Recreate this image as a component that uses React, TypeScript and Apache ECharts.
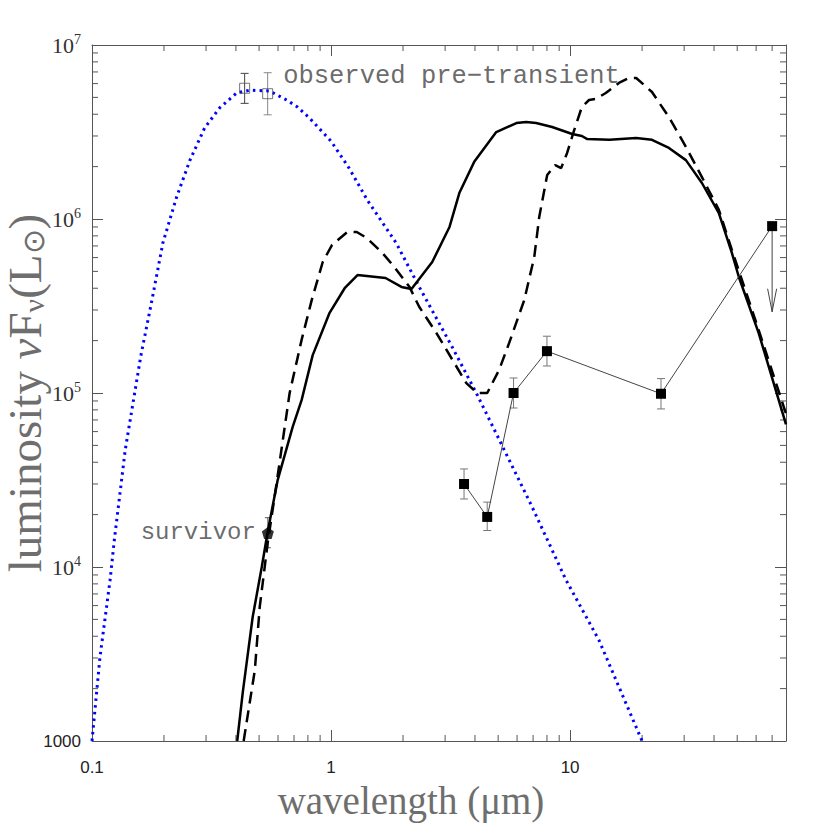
import React, { useEffect, useRef } from 'react';
import * as echarts from 'echarts';

// Blackbody (blue dotted) curve
const blueX = [0.1, 0.108, 0.119, 0.124, 0.1377, 0.16, 0.178, 0.198, 0.226, 0.257, 0.296, 0.342, 0.403, 0.457, 0.553, 0.652, 0.724, 0.813, 1.0, 1.19, 1.42, 1.87, 2.34, 3.21, 4.05, 5.06, 6.94, 9.62, 13.2, 20.0];
const blueY = [1000, 3040, 8400, 14300, 47000, 1.63e5, 3.4e5, 7.3e5, 1.34e6, 2.18e6, 3.34e6, 4.35e6, 5.3e6, 5.5e6, 5.44e6, 4.83e6, 4.4e6, 3.8e6, 2.8e6, 1.96e6, 1.28e6, 7.3e5, 4.06e5, 1.84e5, 1.0e5, 5.37e4, 2.21e4, 8.4e3, 3.8e3, 1000];

// Solid model curve
const solidX = [0.405, 0.427, 0.47, 0.513, 0.543, 0.598, 0.691, 0.753, 0.838, 0.986, 1.14, 1.29, 1.69, 1.97, 2.17, 2.65, 3.13, 3.44, 3.97, 4.91, 5.96, 6.55, 7.21, 8.41, 10.2, 11.2, 11.8, 14.6, 18.9, 22.0, 25.9, 30.5, 35.6, 41.9, 47.5, 50.8, 61.5, 80];
const solidY = [1000, 1890, 5160, 1e4, 1.59e4, 3.16e4, 6.38e4, 9.1e4, 1.65e5, 2.89e5, 4.0e5, 4.76e5, 4.58e5, 4.07e5, 3.96e5, 5.66e5, 9.0e5, 1.41e6, 2.13e6, 3.16e6, 3.56e6, 3.61e6, 3.56e6, 3.38e6, 3.08e6, 3.0e6, 2.88e6, 2.85e6, 2.92e6, 2.85e6, 2.56e6, 2.18e6, 1.61e6, 1.08e6, 6.38e5, 4.64e5, 2.21e5, 6.6e4];

// Dashed model curve
const dashX = [0.431, 0.48, 0.503, 0.543, 0.592, 0.64, 0.671, 0.753, 0.83, 0.923, 1.01, 1.17, 1.28, 1.41, 1.64, 1.84, 2.13, 2.34, 2.76, 3.22, 3.68, 4.09, 4.5, 5.05, 5.56, 6.43, 7.08, 7.43, 8.02, 8.66, 9.17, 9.71, 10.4, 11.2, 12.0, 12.8, 14.1, 16.0, 17.6, 18.9, 22.0, 25.9, 30.5, 35.6, 41.9, 47.5, 61.5, 80];
const dashY = [1000, 2560, 5890, 1.37e4, 3.04e4, 6.38e4, 1e5, 2.02e5, 3.42e5, 5.66e5, 7.1e5, 8.42e5, 8.42e5, 7.78e5, 6.38e5, 5.3e5, 4.06e5, 3.12e5, 2.21e5, 1.55e5, 1.14e5, 1.0e5, 1.0e5, 1.36e5, 1.94e5, 3.42e5, 6.05e5, 1.03e6, 1.79e6, 2.04e6, 1.96e6, 2.39e6, 3.24e6, 4.4e6, 4.83e6, 4.9e6, 5.3e6, 6.05e6, 6.46e6, 6.46e6, 5.37e6, 3.85e6, 2.6e6, 1.74e6, 1.13e6, 6.64e5, 2.3e5, 7.6e4];

// Observed IR (transient) photometry
const irX = [3.6, 4.5, 5.8, 8.0, 24, 70];
const irY = [3.0e4, 1.94e4, 1.0e5, 1.74e5, 9.9e4, 9.1e5];
const irErrX = [3.6, 4.5, 5.8, 8.0, 24];
const irLo = [2.46e4, 1.62e4, 8.2e4, 1.43e5, 8.1e4];
const irHi = [3.66e4, 2.36e4, 1.22e5, 2.12e5, 1.21e5];
const limitX = [70];
const limitFrom = [9.1e5];
const limitTo = [2.93e5];

// Pre-transient photometry
const preX = [0.435, 0.543];
const preY = [5.64e6, 5.25e6];
const preLo = [4.62e6, 3.97e6];
const preHi = [6.87e6, 6.93e6];

// Survivor
const survX = [0.544];
const survY = [1.57e4];
const survLo = [1.29e4];
const survHi = [1.92e4];

// Axis ranges & minor tick values
const xMin = 0.1, xMax = 80, yMin = 1000, yMax = 1e7;
const xMinorTicks = [0.2, 0.3, 0.4, 0.5, 0.6, 0.7, 0.8, 0.9, 2, 3, 4, 5, 6, 7, 8, 9, 20, 30, 40, 50, 60, 70];
const yMinorTicks = [2000, 3000, 4000, 5000, 6000, 7000, 8000, 9000, 2e4, 3e4, 4e4, 5e4, 6e4, 7e4, 8e4, 9e4, 2e5, 3e5, 4e5, 5e5, 6e5, 7e5, 8e5, 9e5, 2e6, 3e6, 4e6, 5e6, 6e6, 7e6, 8e6, 9e6];

const zip = (a: number[], b: number[]) => a.map((v, i) => [v, b[i]]);

const AX = '#555';
const TITLE = '#6e6e6e';

function errorSeries(xs: number[], lo: number[], hi: number[], colors: string[], cap: number) {
  return {
    type: 'custom',
    xAxisIndex: 0,
    yAxisIndex: 0,
    silent: true,
    z: 1,
    data: xs.map((x, i) => [x, lo[i], hi[i], i]),
    renderItem: (params: any, api: any) => {
      const x = api.value(0);
      const a = api.coord([x, api.value(1)]);
      const b = api.coord([x, api.value(2)]);
      const c = colors[api.value(3)] || colors[0];
      const st = { stroke: c, lineWidth: 1 };
      return {
        type: 'group',
        children: [
          { type: 'line', shape: { x1: a[0], y1: a[1], x2: b[0], y2: b[1] }, style: st },
          { type: 'line', shape: { x1: a[0] - cap, y1: a[1], x2: a[0] + cap, y2: a[1] }, style: st },
          { type: 'line', shape: { x1: b[0] - cap, y1: b[1], x2: b[0] + cap, y2: b[1] }, style: st },
        ],
      };
    },
  };
}

const xLabelFmt = (v: number) => {
  const l = Math.log10(v);
  const n = Math.round(l);
  if (Math.abs(l - n) > 1e-6) return '';
  return n < 0 ? '0.1' : String(Math.pow(10, n));
};

const yLabelFmt = (v: number) => {
  const l = Math.log10(v);
  const n = Math.round(l);
  if (Math.abs(l - n) > 1e-6) return '';
  if (n === 3) return '{s|1000}';
  return '{b|10}{sup|' + n + '}';
};

export default function App() {
  const ref = useRef<HTMLDivElement>(null);
  useEffect(() => {
    const chart = echarts.init(ref.current as HTMLDivElement, null, { renderer: 'svg' });
    const tickStyle = { color: AX, width: 1 };
    chart.setOption({
      animation: false,
      backgroundColor: '#fff',
      grid: { left: 92, top: 45, width: 694, height: 696, outerBoundsMode: 'none', containLabel: false },
      xAxis: [
        {
          type: 'log', logBase: 10, min: xMin, max: xMax, position: 'bottom',
          axisLine: { onZero: false, lineStyle: { color: AX, width: 1 } },
          axisTick: { inside: true, length: 11, lineStyle: tickStyle },
          axisLabel: { formatter: xLabelFmt, fontFamily: 'Liberation Sans', fontSize: 17, color: '#222', margin: 18, showMaxLabel: false },
          splitLine: { show: false },
          name: 'wavelength (μm)', nameLocation: 'middle', nameGap: 40, nameMoveOverlap: false,
          nameTextStyle: { fontFamily: 'Liberation Serif', fontSize: 39, color: TITLE, padding: [0, 56, 0, 0] },
        },
        {
          type: 'log', logBase: 10, min: xMin, max: xMax, position: 'top',
          axisLine: { onZero: false, lineStyle: { color: AX, width: 1 } },
          axisTick: { inside: true, length: 11, lineStyle: tickStyle },
          axisLabel: { show: false },
          splitLine: { show: false },
        },
      ],
      yAxis: [
        {
          type: 'log', logBase: 10, min: yMin, max: yMax, position: 'left',
          axisLine: { onZero: false, lineStyle: { color: AX, width: 1 } },
          axisTick: { inside: true, length: 11, lineStyle: tickStyle },
          axisLabel: {
            formatter: yLabelFmt, margin: 11, color: '#222',
            rich: {
              s: { fontFamily: 'Liberation Sans', fontSize: 17, color: '#222' },
              b: { fontFamily: 'Liberation Serif', fontSize: 22, lineHeight: 26, color: '#333' },
              sup: { fontFamily: 'Liberation Serif', fontSize: 14, lineHeight: 20, verticalAlign: 'top', color: '#333' },
            },
          },
          splitLine: { show: false },
          name: '{a|luminosity }{i|ν}{a|F}{sub|ν}{a|(L}{sub|⊙}{a|)}',
          nameLocation: 'middle', nameGap: 44, nameMoveOverlap: false,
          nameTextStyle: {
            rich: {
              a: { fontFamily: 'Liberation Serif', fontSize: 47, lineHeight: 46, color: TITLE },
              i: { fontFamily: 'Liberation Serif', fontStyle: 'italic', fontSize: 47, lineHeight: 46, color: TITLE },
              sub: { fontFamily: 'Liberation Serif', fontSize: 30, lineHeight: 30, verticalAlign: 'bottom', color: TITLE },
            },
          },
        },
        {
          type: 'log', logBase: 10, min: yMin, max: yMax, position: 'right',
          axisLine: { onZero: false, lineStyle: { color: AX, width: 1 } },
          axisTick: { inside: true, length: 11, lineStyle: tickStyle },
          axisLabel: { show: false },
          splitLine: { show: false },
        },
      ],
      series: [
        {
          type: 'custom', xAxisIndex: 0, yAxisIndex: 0, silent: true, z: 0,
          data: xMinorTicks.map((v) => [v, yMin]),
          renderItem: (params: any, api: any) => {
            const v = api.value(0);
            const b = api.coord([v, yMin]);
            const t = api.coord([v, yMax]);
            const st = { stroke: AX, lineWidth: 1 };
            return {
              type: 'group',
              children: [
                { type: 'line', shape: { x1: b[0], y1: b[1], x2: b[0], y2: b[1] - 6 }, style: st },
                { type: 'line', shape: { x1: t[0], y1: t[1], x2: t[0], y2: t[1] + 6 }, style: st },
              ],
            };
          },
        },
        {
          type: 'custom', xAxisIndex: 0, yAxisIndex: 0, silent: true, z: 0,
          data: yMinorTicks.map((v) => [xMin, v]),
          renderItem: (params: any, api: any) => {
            const v = api.value(1);
            const l = api.coord([xMin, v]);
            const r = api.coord([xMax, v]);
            const st = { stroke: AX, lineWidth: 1 };
            return {
              type: 'group',
              children: [
                { type: 'line', shape: { x1: l[0], y1: l[1], x2: l[0] + 6, y2: l[1] }, style: st },
                { type: 'line', shape: { x1: r[0], y1: r[1], x2: r[0] - 6, y2: r[1] }, style: st },
              ],
            };
          },
        },
        {
          type: 'line', data: zip(blueX, blueY), symbol: 'none', z: 2,
          lineStyle: { color: '#0000ff', width: 3, type: [2.5, 4.2], cap: 'butt' },
        },
        {
          type: 'line', data: zip(solidX, solidY), symbol: 'none', z: 2,
          lineStyle: { color: '#000', width: 2.5 },
        },
        {
          type: 'line', data: zip(dashX, dashY), symbol: 'none', z: 2,
          lineStyle: { color: '#000', width: 2.5, type: [12, 7] },
        },
        errorSeries(irErrX, irLo, irHi, ['#777'], 4),
        errorSeries(preX, preLo, preHi, ['#444', '#888'], 4),
        errorSeries(survX, survLo, survHi, ['#555'], 3),
        {
          type: 'custom', xAxisIndex: 0, yAxisIndex: 0, silent: true, z: 1,
          data: limitX.map((x, i) => [x, limitFrom[i], limitTo[i]]),
          renderItem: (params: any, api: any) => {
            const x = api.value(0);
            const a = api.coord([x, api.value(1)]);
            const t = api.coord([x, api.value(2)]);
            const st = { stroke: '#444', lineWidth: 1 };
            return {
              type: 'group',
              children: [
                { type: 'line', shape: { x1: a[0], y1: a[1], x2: t[0], y2: t[1] }, style: st },
                { type: 'polyline', shape: { points: [[t[0] - 4.5, t[1] - 23], [t[0], t[1]], [t[0] + 4.5, t[1] - 23]] }, style: { stroke: '#444', lineWidth: 1, fill: 'none' } },
              ],
            };
          },
        },
        {
          type: 'line', data: zip(irX, irY), symbol: 'rect', symbolSize: 10, z: 3,
          itemStyle: { color: '#000' },
          lineStyle: { color: '#444', width: 1 },
        },
        {
          type: 'scatter', symbol: 'rect', symbolSize: 10, z: 3,
          itemStyle: { color: 'rgba(0,0,0,0)', borderColor: '#555', borderWidth: 1 },
          data: zip(preX, preY).map((p, i) =>
            i === 1
              ? {
                  value: p,
                  label: {
                    show: true, position: 'right', distance: 10, offset: [0, -17],
                    formatter: 'observed pre−transient',
                    fontFamily: 'Liberation Mono', fontSize: 25.5, color: '#444',
                  },
                }
              : { value: p }
          ),
        },
        {
          type: 'scatter', z: 3,
          symbol: 'path://M0,-1 L0.951,-0.309 L0.588,0.809 L-0.588,0.809 L-0.951,-0.309 Z',
          symbolSize: 12,
          itemStyle: { color: '#000' },
          label: {
            show: true, position: 'left', distance: 6, formatter: 'survivor',
            fontFamily: 'Liberation Mono', fontSize: 24, color: '#444',
          },
          data: zip(survX, survY),
        },
      ],
    });
    return () => chart.dispose();
  }, []);
  return <div ref={ref} style={{ position: 'fixed', left: 0, top: 0, width: 830, height: 830, background: '#fff' }} />;
}
